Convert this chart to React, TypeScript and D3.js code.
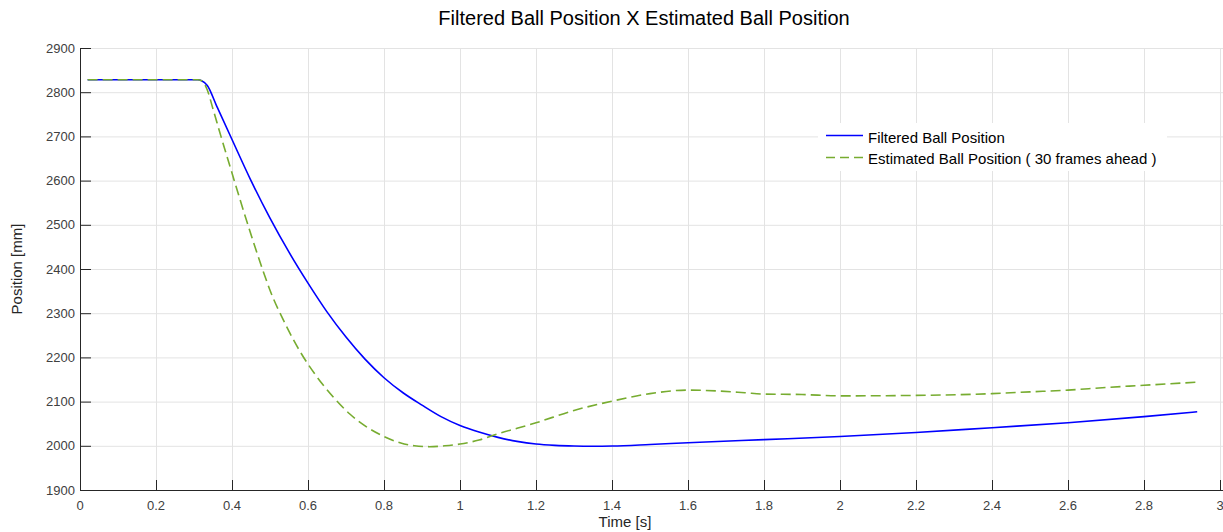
import React from "react";
import * as d3 from "d3";

// time samples [s] and positions [mm]
const filteredT = [0.02, 0.31, 0.32, 0.335, 0.36, 0.4, 0.45, 0.5, 0.55, 0.6, 0.65, 0.7, 0.75, 0.8, 0.85, 0.9, 0.95, 1.0, 1.05, 1.1, 1.15, 1.2, 1.25, 1.3, 1.35, 1.4, 1.5, 1.6, 1.8, 2.0, 2.2, 2.4, 2.6, 2.8, 2.94];
const filteredPos = [2828, 2828, 2826, 2815, 2768, 2693, 2600, 2515, 2438, 2368, 2303, 2246, 2196, 2154, 2120, 2092, 2066, 2046, 2031, 2019, 2010, 2004, 2001, 1999.5, 1999, 1999.5, 2003, 2007, 2014, 2021, 2030, 2041, 2052, 2066, 2077];

const estimatedT = [0.02, 0.31, 0.32, 0.335, 0.35, 0.371, 0.4, 0.44, 0.48, 0.5, 0.54, 0.58, 0.62, 0.667, 0.71, 0.754, 0.8, 0.842, 0.88, 0.92, 0.96, 1.0, 1.05, 1.1, 1.2, 1.3, 1.4, 1.5, 1.6, 1.68, 1.75, 1.8, 1.9, 2.0, 2.2, 2.4, 2.5, 2.6, 2.7, 2.8, 2.94];
const estimatedPos = [2828, 2828, 2826, 2805, 2762, 2700, 2617, 2505, 2400, 2352, 2276, 2212, 2160, 2110, 2072, 2043, 2021, 2007, 2000, 1998, 2000, 2004, 2013, 2027, 2052, 2080, 2101, 2118, 2126, 2124, 2120, 2117, 2116, 2113, 2114, 2118, 2122, 2126, 2132, 2137, 2144];

const xTicks = [0, 0.2, 0.4, 0.6, 0.8, 1, 1.2, 1.4, 1.6, 1.8, 2, 2.2, 2.4, 2.6, 2.8, 3];
const yTicks = [1900, 2000, 2100, 2200, 2300, 2400, 2500, 2600, 2700, 2800, 2900];

const seriesNames = ["Filtered Ball Position", "Estimated Ball Position ( 30 frames ahead )"];

const W = 1223;
const H = 532;
const FONT = "'Liberation Sans', Arial, Helvetica, sans-serif";

export default function App() {
  const x = d3.scaleLinear().domain([0, 3]).range([80, 1220]);
  const y = d3.scaleLinear().domain([1900, 2900]).range([490, 48]);

  const line = d3
    .line<[number, number]>()
    .x((d) => x(d[0]))
    .y((d) => y(d[1]))
    .curve(d3.curveMonotoneX);

  const filtered = filteredT.map((t, i) => [t, filteredPos[i]] as [number, number]);
  const estimated = estimatedT.map((t, i) => [t, estimatedPos[i]] as [number, number]);

  const [x0] = x.range();
  const [y0, y1] = y.range();

  return (
    <svg
      width={W}
      height={H}
      style={{ position: "absolute", left: 0, top: 0, background: "#fff" }}
      fontFamily={FONT}
    >
      {/* grid */}
      <g stroke="#e3e3e3" strokeWidth={1}>
        {xTicks.filter((t) => t > 0).map((t) => (
          <line key={"gx" + t} x1={x(t) + 0.5} x2={x(t) + 0.5} y1={y1} y2={y0} />
        ))}
        {yTicks.filter((v) => v > 1900).map((v) => (
          <line key={"gy" + v} x1={x0} x2={W} y1={y(v) + 0.5} y2={y(v) + 0.5} />
        ))}
      </g>

      {/* series */}
      <path d={line(filtered)!} fill="none" stroke="#0000ff" strokeWidth={1.6} />
      <path d={line(estimated)!} fill="none" stroke="#77ac30" strokeWidth={1.6} strokeDasharray="10,5" />

      {/* axes */}
      <g stroke="#262626" strokeWidth={1}>
        <line x1={x0 + 0.5} x2={x0 + 0.5} y1={y1} y2={y0 + 0.5} />
        <line x1={x0} x2={W} y1={y0 + 0.5} y2={y0 + 0.5} />
        {xTicks.map((t) => (
          <line key={"tx" + t} x1={x(t) + 0.5} x2={x(t) + 0.5} y1={y0} y2={y0 - 10} />
        ))}
        {yTicks.map((v) => (
          <line key={"ty" + v} x1={x0} x2={x0 + 11} y1={y(v) + 0.5} y2={y(v) + 0.5} />
        ))}
      </g>

      <g fontSize={13} fill="#404040">
        {xTicks.map((t) => (
          <text key={"lx" + t} x={x(t)} y={y0 + 20} textAnchor="middle">
            {d3.format("~g")(t)}
          </text>
        ))}
        {yTicks.map((v) => (
          <text key={"ly" + v} x={x0 - 5} y={y(v) + 4.5} textAnchor="end">
            {v}
          </text>
        ))}
      </g>

      <text x={625} y={527} textAnchor="middle" fontSize={15} fill="#262626">
        Time [s]
      </text>
      <text
        transform={`translate(22,${(y0 + y1) / 2}) rotate(-90)`}
        textAnchor="middle"
        fontSize={15}
        fill="#262626"
      >
        Position [mm]
      </text>

      <text x={644} y={25} textAnchor="middle" fontSize={20} fill="#000">
        Filtered Ball Position X Estimated Ball Position
      </text>

      {/* legend */}
      <g>
        <rect x={818} y={123} width={349} height={48} fill="#fff" />
        <line x1={826} x2={863} y1={135.5} y2={135.5} stroke="#0000ff" strokeWidth={1.6} />
        <line x1={826} x2={863} y1={157.5} y2={157.5} stroke="#77ac30" strokeWidth={1.6} strokeDasharray="9,5" />
        <text x={868} y={143} fontSize={15} fill="#000">
          {seriesNames[0]}
        </text>
        <text x={868} y={164} fontSize={15} fill="#000">
          {seriesNames[1]}
        </text>
      </g>
    </svg>
  );
}
